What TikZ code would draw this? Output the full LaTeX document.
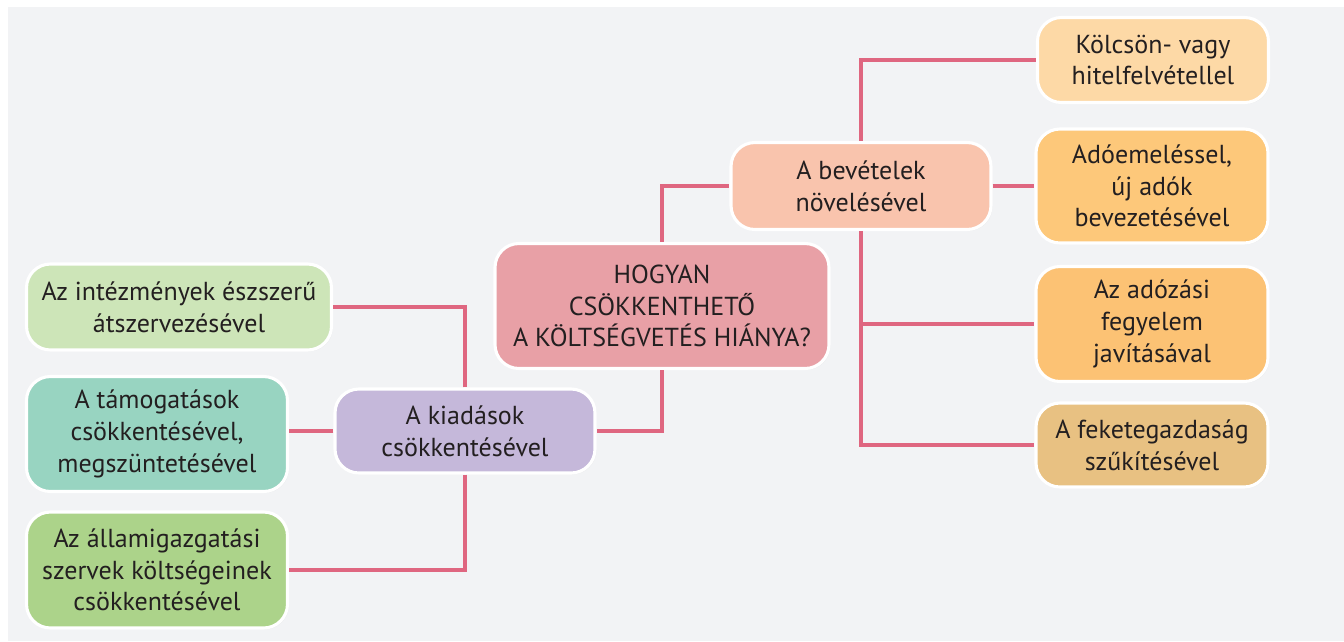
\documentclass[tikz,border=0pt]{standalone}
\usepackage{fontspec}
\setmainfont{PT Sans}
\usetikzlibrary{shadows}
\definecolor{bgc}{HTML}{F2F3F5}
\definecolor{linec}{HTML}{DF6680}
\definecolor{textc}{HTML}{231F20}
\definecolor{qc}{HTML}{E8A0A6}
\definecolor{incc}{HTML}{F9C4AD}
\definecolor{loanc}{HTML}{FDD9A6}
\definecolor{taxc}{HTML}{FDC87A}
\definecolor{discc}{HTML}{FCC274}
\definecolor{blackc}{HTML}{E8C182}
\definecolor{expc}{HTML}{C5B8DA}
\definecolor{instc}{HTML}{CDE5B8}
\definecolor{subc}{HTML}{98D4C1}
\definecolor{statec}{HTML}{ACD38A}
\tikzset{
  box/.style={draw=white, line width=2.2pt, rounded corners=17pt, align=center,
    text=textc, inner sep=0pt, font=\fontsize{18.5}{22.5}\selectfont,
    drop shadow={opacity=0.06, shadow xshift=1pt, shadow yshift=-1pt}},
  size/.style 2 args={minimum width=#1*0.025cm, minimum height=#2*0.025cm},
  link/.style={draw=linec, line width=2.4pt}
}
\begin{document}
\begin{tikzpicture}[x=0.025cm, y=-0.025cm]
    % background
    \useasboundingbox (0,0) rectangle (1344,641);
    \fill[bgc] (8,7) rectangle (1344,641);
    % question
    \node[box, fill=qc, size={334}{125}] (q) at (662,306) {HOGYAN\\CSÖKKENTHETŐ\\A KÖLTSÉGVETÉS HIÁNYA?};
    % revenues
    \node[box, fill=incc, size={260}{87}] (inc) at (861,186) {A bevételek\\növelésével};
    \node[box, fill=loanc, size={231}{85}] (loan) at (1153,60) {Kölcsön- vagy\\hitelfelvétellel};
    \node[box, fill=taxc, size={232}{114}] (tax) at (1152,186) {Adóemeléssel,\\új adók\\bevezetésével};
    \node[box, fill=discc, size={232}{115}] (disc) at (1152,324) {Az adózási\\fegyelem\\javításával};
    \node[box, fill=blackc, size={232}{84}] (black) at (1152,445) {A feketegazdaság\\szűkítésével};
    % expenses
    \node[box, fill=expc, size={260}{84}] (exp) at (465,431) {A kiadások\\csökkentésével};
    \node[box, fill=instc, size={305}{86}] (inst) at (179,307) {Az intézmények észszerű\\átszervezésével};
    \node[box, fill=subc, size={261}{115}] (sub) at (157,434) {A támogatások\\csökkentésével,\\megszüntetésével};
    \node[box, fill=statec, size={261}{116}] (state) at (157,570) {Az államigazgatási\\szervek költségeinek\\csökkentésével};
    % connectors
    \draw[link] (q.north) |- (inc.west);
    \draw[link] (q.south) |- (exp.east);
    \draw[link] (inc.north) |- (loan.west);
    \draw[link] (inc.east) -- (tax.west);
    \draw[link] (inc.south) |- (disc.west);
    \draw[link] (inc.south) |- (black.west);
    \draw[link] (exp.north) |- (inst.east);
    \draw[link] (exp.west) -- (exp.west -| sub.east);
    \draw[link] (exp.south) |- (state.east);
\end{tikzpicture}
\end{document}
